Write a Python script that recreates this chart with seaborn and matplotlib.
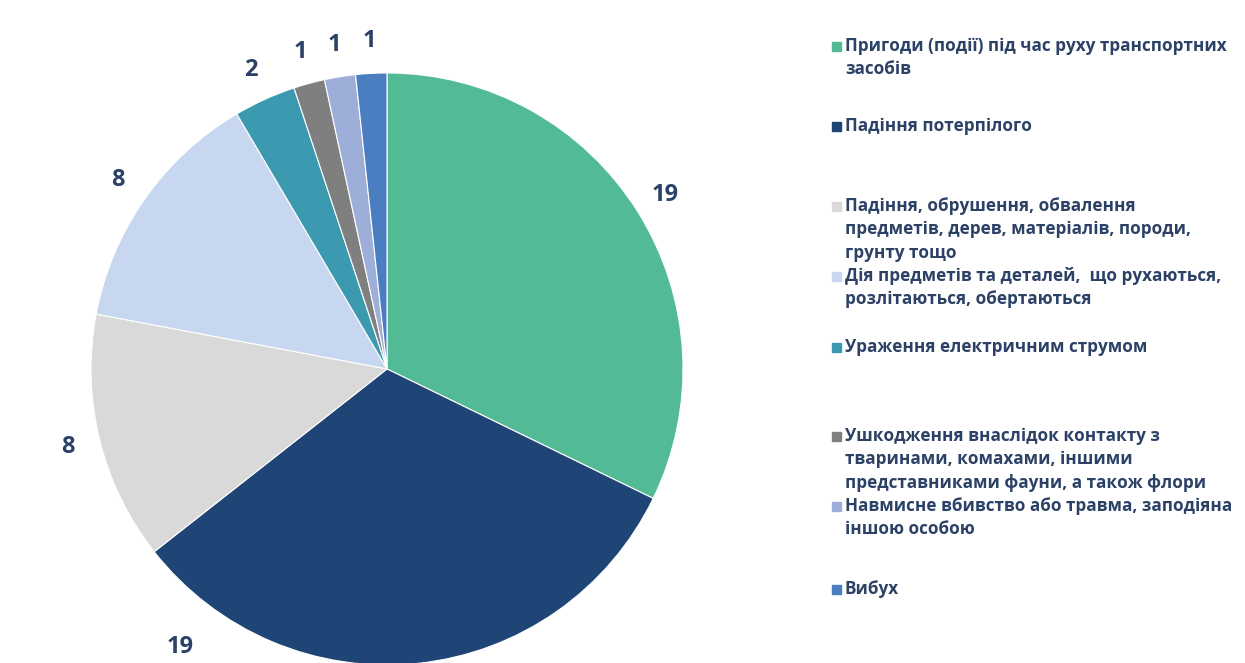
import matplotlib
matplotlib.use("Agg")
import matplotlib.pyplot as plt
import seaborn as sns
import numpy as np

# data
categories = [
    "Пригоди (події) під час руху транспортних\nзасобів",
    "Падіння потерпілого",
    "Падіння, обрушення, обвалення\nпредметів, дерев, матеріалів, породи,\nгрунту тощо",
    "Дія предметів та деталей,  що рухаються,\nрозлітаються, обертаються",
    "Ураження електричним струмом",
    "Ушкодження внаслідок контакту з\nтваринами, комахами, іншими\nпредставниками фауни, а також флори",
    "Навмисне вбивство або травма, заподіяна\nіншою особою",
    "Вибух",
]
counts = [19, 19, 8, 8, 2, 1, 1, 1]
colors = ["#52BA94", "#1F4577", "#D9D9D9", "#C6D7EF",
          "#3C9AB0", "#7F7F7F", "#9DAFD8", "#4A7EC0"]

sns.set_theme(style="white")
plt.rcParams["font.family"] = ["Open Sans", "DejaVu Sans"]
palette = sns.color_palette(colors)
text_color = "#2B4166"

fig = plt.figure(figsize=(12.45, 6.63), dpi=100)
ax = fig.add_axes([0.0731, -0.003, 0.4755, 0.893])

wedges, texts = ax.pie(counts, colors=palette, startangle=90, counterclock=False,
                       labels=[str(c) for c in counts], labeldistance=1.11,
                       wedgeprops=dict(edgecolor="white", linewidth=0.8),
                       textprops=dict(fontsize=17, fontweight="bold", color=text_color))
for t in texts:
    t.set_ha("center")
    t.set_va("center")
# the second "19" was pulled off its slice in the original
ang = np.deg2rad(-126.6)
texts[1].set_position((1.17 * np.cos(ang), 1.17 * np.sin(ang)))
ax.set_xlim(-1, 1)
ax.set_ylim(-1, 1)
ax.set_aspect("equal")
ax.axis("off")

# legend, laid out like the Excel one
legend_y = [47, 127, 207, 277, 348, 437, 507, 590]
H = 663.0
W = 1245.0
for lab, col, y in zip(categories, colors, legend_y):
    fig.patches.append(plt.Rectangle((832 / W, 1 - (y + 4) / H), 9 / W, 9 / H,
                                     transform=fig.transFigure, color=col, figure=fig))
    fig.text(845 / W, 1 - (y - 10) / H, lab, fontsize=12.3, fontweight="bold",
             color=text_color, va="top", ha="left", linespacing=1.38)

fig.savefig("out.png", dpi=100)
